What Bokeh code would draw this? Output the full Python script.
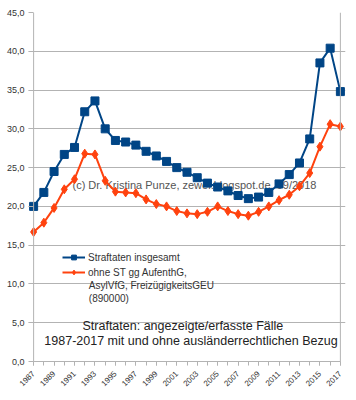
from bokeh.plotting import figure
from bokeh.models import (Range1d, FixedTicker, CustomJSTickFormatter, Legend,
                          LegendItem, Label, ColumnDataSource, Span)
from bokeh.embed import file_html
from bokeh.resources import INLINE

years = list(range(1987, 2018))
insgesamt = [20.0, 21.8, 24.5, 26.7, 27.6, 32.2, 33.6, 30.0, 28.5, 28.3, 27.9,
             27.1, 26.5, 25.8, 25.0, 24.4, 23.7, 23.0, 22.5, 22.0, 21.4, 21.0,
             21.2, 21.8, 22.9, 24.1, 25.6, 28.7, 38.5, 40.4, 34.8]
ohne = [16.7, 17.9, 19.8, 22.2, 23.5, 26.8, 26.7, 23.3, 21.9, 21.8, 21.7,
        20.9, 20.3, 20.0, 19.4, 19.1, 19.0, 19.3, 20.0, 19.4, 19.0, 18.8,
        19.3, 20.0, 20.8, 21.5, 22.6, 24.3, 27.7, 30.6, 30.3]
y_ticks = [0, 5, 10, 15, 20, 25, 30, 35, 40, 45]
x_label_years = list(range(1987, 2018, 2))

label_1 = "Straftaten insgesamt"
label_2_lines = ["ohne ST gg AufenthG,", "AsylVfG, FreizügigkeitsGEU", "(890000)"]
title_1 = "Straftaten: angezeigte/erfasste Fälle"
title_2 = "1987-2017 mit und ohne ausländerrechtlichen Bezug"
watermark = "(c) Dr. Kristina Punze, zewei.blogspot.de, 09/2018"

BLUE = "#004586"
RED = "#ff420e"
GRID = "#b3b3b3"
TXT = "#333333"
FONT = "Liberation Sans"

x0, x1 = years[0], years[-1]
src = ColumnDataSource(dict(x=years, a=insgesamt, b=ohne))

p = figure(width=356, height=400, output_backend="svg", toolbar_location=None,
           x_range=Range1d(x0 - 0.5, x1 + 0.5), y_range=Range1d(0, 45),
           min_border_left=28, min_border_right=11, min_border_top=12,
           min_border_bottom=39)
p.background_fill_color = "white"
p.border_fill_color = "white"
p.outline_line_color = None

p.xgrid.grid_line_color = None
p.ygrid.grid_line_color = GRID
p.ygrid.grid_line_width = 1
p.ygrid.ticker = FixedTicker(ticks=y_ticks)
p.ygrid.bounds = (x0, x1)

p.yaxis.ticker = FixedTicker(ticks=y_ticks)
p.yaxis.formatter = CustomJSTickFormatter(code="return tick.toFixed(1).replace('.', ',');")
p.yaxis.axis_line_color = None
p.yaxis.major_tick_line_color = GRID
p.yaxis.major_tick_out = 0
p.yaxis.major_tick_in = 5
p.yaxis.minor_tick_line_color = None
p.yaxis.major_label_text_font = FONT
p.yaxis.major_label_text_font_size = "9px"
p.yaxis.major_label_text_color = TXT
p.yaxis.major_label_standoff = 4

p.xaxis.bounds = (x0, x1)
p.xaxis.ticker = FixedTicker(ticks=x_label_years, minor_ticks=years)
p.xaxis.axis_line_color = GRID
p.xaxis.major_tick_line_color = GRID
p.xaxis.minor_tick_line_color = GRID
p.xaxis.major_tick_out = 4
p.xaxis.major_tick_in = 0
p.xaxis.minor_tick_out = 4
p.xaxis.minor_tick_in = 0
p.xaxis.major_label_orientation = 0.785398
p.xaxis.major_label_text_font = FONT
p.xaxis.major_label_text_font_size = "8px"
p.xaxis.major_label_text_color = TXT
p.xaxis.major_label_standoff = 7

p.add_layout(Span(location=x0, dimension="height", line_color=GRID, line_width=1))
p.add_layout(Span(location=x1, dimension="height", line_color=GRID, line_width=1))

wm = Label(x=1990.8, y=22.7, text=watermark, text_font=FONT, text_font_size="11px",
           text_color="#555555", text_align="left", text_baseline="middle", level="underlay")
p.add_layout(wm)

l1 = p.line("x", "a", source=src, line_color=BLUE, line_width=2)
m1 = p.scatter("x", "a", source=src, marker="square", size=8, fill_color=BLUE, line_color=BLUE)
l2 = p.line("x", "b", source=src, line_color=RED, line_width=2)
m2 = p.scatter("x", "b", source=src, marker="diamond", size=9, fill_color=RED, line_color=RED)

legend = Legend(items=[LegendItem(label=label_1, renderers=[l1, m1]),
                       LegendItem(label=label_2_lines[0], renderers=[l2, m2])],
                location=(34, 83), padding=0, margin=0, spacing=3,
                border_line_color=None, background_fill_alpha=0,
                glyph_width=23, glyph_height=12, label_height=12,
                label_standoff=3, label_text_font=FONT,
                label_text_font_size="10px", label_text_color=TXT)
p.add_layout(legend)

for txt, yy in zip(label_2_lines[1:], (9.8, 8.13)):
    p.add_layout(Label(x=1992.4, y=yy, text=txt, text_font=FONT, text_font_size="10px",
                       text_color=TXT, text_align="left", text_baseline="middle"))

for txt, xx, yy in ((title_1, 2001.6, 4.6), (title_2, 2002.39, 2.6)):
    p.add_layout(Label(x=xx, y=yy, text=txt, text_font=FONT, text_font_size="12.5px",
                       text_color="#222222", text_align="center", text_baseline="middle"))

open("out.html", "w").write(file_html(p, INLINE))
